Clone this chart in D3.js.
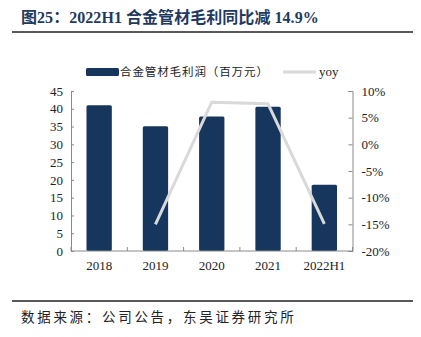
<!DOCTYPE html>
<html><head><meta charset="utf-8">
<script src="https://cdn.jsdelivr.net/npm/d3@7/dist/d3.min.js"></script>
<style>body{margin:0;background:#fff}svg{display:block}</style>
</head><body>
<script>
const categories = ["2018","2019","2020","2021","2022H1"];
const grossProfit = [41.0, 35.1, 37.8, 40.6, 18.6];
const yoy = [null, -15.0, 7.9, 7.6, -14.9];
const leftTicks = [0,5,10,15,20,25,30,35,40,45];
const rightTicks = [-20,-15,-10,-5,0,5,10];
const titleText = "图25：2022H1 合金管材毛利同比减 14.9%";
const sourceText = "数据来源：公司公告，东吴证券研究所";
const barLabel = "合金管材毛利润（百万元）";
const lineLabel = "yoy";

const W=421,H=337;
const svg=d3.select("body").append("svg").attr("width",W).attr("height",H);
const serif="'Liberation Serif','Times New Roman',serif";
const cjk="'Noto Sans CJK SC',sans-serif";

svg.append("text").attr("x",21).attr("y",23).attr("font-family",serif+","+cjk)
  .attr("font-weight","bold").attr("font-size",16).attr("letter-spacing",0.05).attr("fill","#1f3a5f").text(titleText);
svg.append("line").attr("x1",12).attr("x2",413).attr("y1",32).attr("y2",32).attr("stroke","#222").attr("stroke-width",1.5);
svg.append("line").attr("x1",12).attr("x2",413).attr("y1",301).attr("y2",301).attr("stroke","#222").attr("stroke-width",1.5);
svg.append("text").attr("x",21).attr("y",322).attr("font-family",cjk).attr("font-size",13.5).attr("letter-spacing",2.7).attr("fill","#222").text(sourceText);

const x=d3.scaleBand().domain(categories).range([71,352.5]).paddingInner(0.55).paddingOuter(0.275);
const yL=d3.scaleLinear().domain([0,45]).range([251,91]);
const yR=d3.scaleLinear().domain([-20,10]).range([251,91]);

// bars
svg.append("g").selectAll("rect").data(grossProfit).join("rect")
  .attr("x",(d,i)=>x(categories[i])).attr("width",x.bandwidth())
  .attr("y",d=>yL(d)).attr("height",d=>yL(0)-yL(d)).attr("rx",1.5)
  .attr("fill","#17365d");

// axes
const axisColor="#8a8a8a";
const gL=svg.append("g").attr("transform","translate(71,0)")
  .call(d3.axisRight(yL).tickValues(leftTicks).tickSize(3).tickFormat(d3.format("d")));
gL.selectAll("text").attr("x",-8).attr("text-anchor","end");
const gR=svg.append("g").attr("transform","translate(352.5,0)")
  .call(d3.axisLeft(yR).tickValues(rightTicks).tickSize(4).tickFormat(d=>d+"%"));
gR.selectAll("text").attr("x",9).attr("text-anchor","start");
const bounds=[71];
categories.forEach((c,i)=>bounds.push(71+(352.5-71)*(i+1)/categories.length));
const gB=svg.append("g").attr("transform","translate(0,251)")
  .call(d3.axisBottom(x).tickSize(0).tickPadding(10));
gB.selectAll("line").remove();
gB.append("g").selectAll("line").data(bounds).join("line")
  .attr("x1",d=>d).attr("x2",d=>d).attr("y1",0).attr("y2",-4).attr("stroke",axisColor);
[gL,gR,gB].forEach(g=>{
  g.selectAll("path.domain").attr("stroke",axisColor);
  g.selectAll(".tick line").attr("stroke",axisColor);
  g.selectAll("text").attr("font-family",serif).attr("font-size",13).attr("fill","#222");
});
gB.selectAll("path.domain").attr("d","M71,0H352.5");

// line
const line=d3.line().defined(d=>d!=null).x((d,i)=>x(categories[i])+x.bandwidth()/2).y(d=>yR(d));
svg.append("path").datum(yoy).attr("d",line).attr("fill","none").attr("stroke","#d9d9d9")
  .attr("stroke-width",3).attr("stroke-linejoin","round");

// legend
svg.append("rect").attr("x",86).attr("y",68).attr("width",33).attr("height",8).attr("rx",1.5).attr("fill","#17365d");
svg.append("text").attr("x",120).attr("y",76).attr("font-family",cjk).attr("font-size",11.5).attr("letter-spacing",0.9).attr("fill","#222").text(barLabel);
svg.append("line").attr("x1",283).attr("x2",316).attr("y1",72).attr("y2",72).attr("stroke","#d9d9d9").attr("stroke-width",3);
svg.append("text").attr("x",319).attr("y",76).attr("font-family",serif).attr("font-size",13).attr("fill","#222").text(lineLabel);
</script>
</body></html>
